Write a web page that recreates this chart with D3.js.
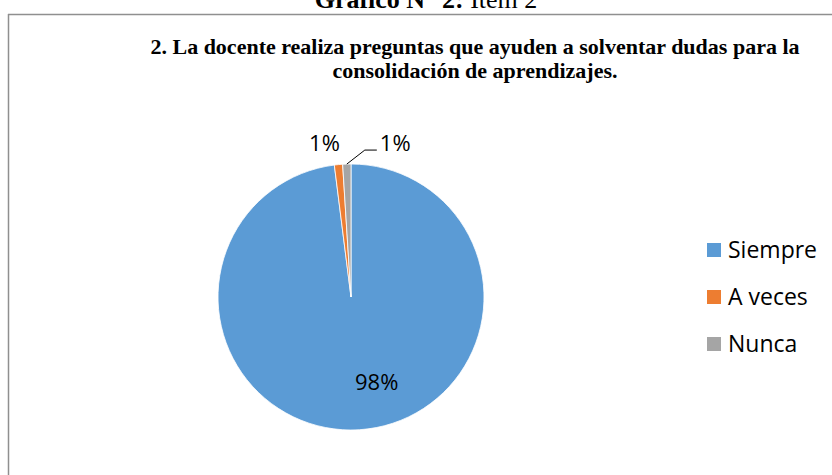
<!DOCTYPE html>
<html>
<head>
<meta charset="utf-8">
<script src="https://cdn.jsdelivr.net/npm/d3@7/dist/d3.min.js"></script>
<style>
  body { margin: 0; background: #fff; }
  #container { width: 832px; height: 475px; overflow: hidden; }
</style>
</head>
<body>
<div id="container"></div>
<script>
const categories = ['Siempre', 'A veces', 'Nunca'];
const values = [98, 1, 1];
const colors = ['#5b9bd5', '#ed7d31', '#a5a5a5'];
const titleLines = [
	'2. La docente realiza preguntas que ayuden a solventar dudas para la',
	'consolidación de aprendizajes.'
];

const width = 832;
const height = 475;
const cx = 351, cy = 297, radius = 133;

const data = categories.map((c, i) => ({ name: c, value: values[i], color: colors[i] }));

const svg = d3.select('#container')
	.append('svg')
	.attr('width', width)
	.attr('height', height);

const serif = '"Liberation Serif", "Times New Roman", serif';
const font = '"Open Sans", "Noto Sans", sans-serif';

// caption cut at top of page
const cap = svg.append('text')
	.attr('x', 426)
	.attr('y', 8)
	.attr('text-anchor', 'middle')
	.style('font-family', serif)
	.style('font-size', '26px');
cap.append('tspan').style('font-weight', 'bold').text('Gráfico N° 2:');
cap.append('tspan').text(' Ítem 2');

// chart frame
svg.append('line')
	.attr('x1', 8).attr('x2', width)
	.attr('y1', 14.5).attr('y2', 14.5)
	.attr('stroke', '#8f8f8f').attr('stroke-width', 1.5);
svg.append('line')
	.attr('x1', 8.5).attr('x2', 8.5)
	.attr('y1', 14).attr('y2', height)
	.attr('stroke', '#8f8f8f').attr('stroke-width', 1.5);

svg.append('g')
	.selectAll('text')
	.data(titleLines)
	.join('text')
	.attr('x', 475)
	.attr('y', (d, i) => 54 + i * 24)
	.attr('text-anchor', 'middle')
	.style('font-family', serif)
	.style('font-weight', 'bold')
	.style('font-size', '22px')
	.text(d => d);

const pie = d3.pie()
	.sort(null)
	.value(d => d.value);
const arcs = pie(data);

const arc = d3.arc()
	.innerRadius(0)
	.outerRadius(radius);

const g = svg.append('g')
	.attr('transform', `translate(${cx},${cy})`);

g.selectAll('path')
	.data(arcs)
	.join('path')
	.attr('d', arc)
	.attr('fill', d => d.data.color)
	.attr('stroke', '#fff')
	.attr('stroke-width', 0.8);

const mid = d => (d.startAngle + d.endAngle) / 2;

// big slice label inside
const bigA = mid(arcs[0]) - 0.23, bigR = radius * 0.67;
g.append('text')
	.datum(arcs[0])
	.attr('x', bigR * Math.sin(bigA))
	.attr('y', -bigR * Math.cos(bigA))
	.attr('dy', '0.35em')
	.attr('text-anchor', 'middle')
	.style('font-family', font)
	.style('font-size', '22px')
	.text(d => d.data.value + '%');

// small slice labels outside
const small = arcs.slice(1);
small.forEach((d, i) => {
	const a = mid(d);
	const px = radius * Math.sin(a), py = -radius * Math.cos(a);
	if (i === 0) {
		g.append('text')
			.attr('x', px - 14)
			.attr('y', py - 21)
			.attr('dy', '0.35em')
			.attr('text-anchor', 'middle')
			.style('font-family', font)
			.style('font-size', '22px')
			.text(d.data.value + '%');
	} else {
		const ex = px + 18, ey = py - 14;
		g.append('polyline')
			.attr('points', `${px},${py} ${ex},${ey} ${ex + 12},${ey}`)
			.attr('fill', 'none')
			.attr('stroke', '#000')
			.attr('stroke-width', 1);
		g.append('text')
			.attr('x', ex + 15)
			.attr('y', ey - 7)
			.attr('dy', '0.35em')
			.style('font-family', font)
			.style('font-size', '22px')
			.text(d.data.value + '%');
	}
});

// legend
const legend = svg.append('g')
	.attr('transform', 'translate(707,243)');
const item = legend.selectAll('g')
	.data(data)
	.join('g')
	.attr('transform', (d, i) => `translate(0,${i * 47})`);
item.append('rect')
	.attr('width', 14)
	.attr('height', 14)
	.attr('fill', d => d.color);
item.append('text')
	.attr('x', 21)
	.attr('y', 15)
	.style('font-family', font)
	.style('font-size', '23px')
	.text(d => d.name);
</script>
</body>
</html>
